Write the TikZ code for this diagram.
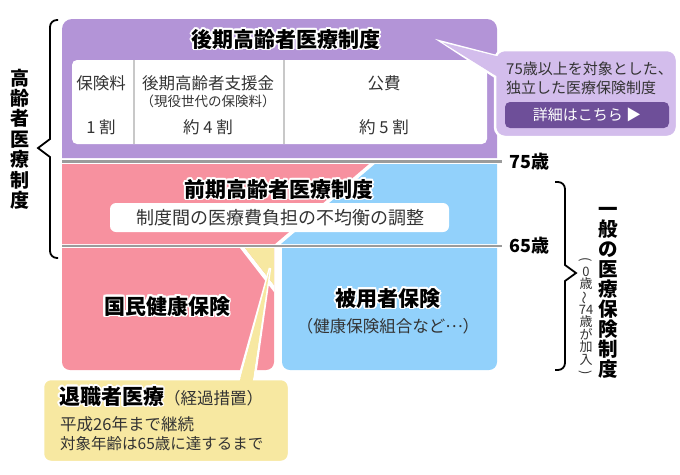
\documentclass[tikz,border=0pt]{standalone}
\usepackage{fontspec}
\setmainfont{Noto Sans CJK JP}
\usepackage{graphicx}
\usepackage{contour}
\contourlength{1.6pt}
\newcommand\outl[1]{\contour{white}{#1}}
\definecolor{purp}{HTML}{B394D7}
\definecolor{purpl}{HTML}{D3BDEC}
\definecolor{btnc}{HTML}{6E4F99}
\definecolor{pinkc}{HTML}{F7919F}
\definecolor{bluec}{HTML}{92D1FB}
\definecolor{yelc}{HTML}{F7E8A1}
\definecolor{sepc}{HTML}{9B9B9B}
\definecolor{divc}{HTML}{C8C8C8}
\definecolor{txt}{HTML}{333333}
\tikzset{
  ttl/.style={font=\fontsize{21}{23}\selectfont\bfseries, text=black, inner sep=0},
  bd/.style={font=\fontsize{16.5}{18}\selectfont, text=txt, inner sep=0},
  sm/.style={font=\fontsize{13.5}{15}\selectfont, text=txt, inner sep=0},
  cl/.style={font=\fontsize{15}{17}\selectfont, text=txt, inner sep=0},
  agelab/.style={font=\fontsize{18}{20}\selectfont\bfseries, text=black, inner sep=0, anchor=west},
  sepline/.style={draw=sepc, line width=2.5},
  bracel/.style={draw=black, line width=1.8},
  vert/.style={align=center, inner sep=0, text=black},
}
\begin{document}
\begin{tikzpicture}[x=1pt,y=-1pt]
\useasboundingbox (0,0) rectangle (680,474);
% ---------- purple block
\fill[purp] (62,158) [rounded corners=10] -- (62,19) -- (497,19) [sharp corners] -- (497,158) -- cycle;
\fill[white, rounded corners=5] (72,60) rectangle (487,144);
\draw[divc, line width=1.5] (134,60) -- (134,144);
\draw[divc, line width=1.5] (284,60) -- (284,144);
\node[ttl] (t1) at (286,40) {\outl{後期高齢者医療制度}};
\node[bd] (c1a) at (101,83) {保険料};
\node[bd] (c1b) at (101,127) {1 割};
\node[bd] (c2a) at (208,83) {後期高齢者支援金};
\node[sm] (c2s) at (208,101) {（現役世代の保険料）};
\node[bd] (c2b) at (208,127) {約 4 割};
\node[bd] (c3a) at (384,83) {公費};
\node[bd] (c3b) at (384,127) {約 5 割};
% ---------- purple callout
\draw[white, line width=2.5, fill=purpl] (442,42) -- (500,57) -- (500,80) -- cycle;
\draw[white, line width=2.5, fill=purpl, rounded corners=10] (495,50) rectangle (677,137);
\fill[purpl] (442.5,42.5) -- (502,57.5) -- (502,79.5) -- cycle;
\fill[btnc, rounded corners=5] (505,102) rectangle (669,128);
\node[cl, anchor=west] (k1) at (506,69) {75歳以上を対象とした、};
\node[cl, anchor=west] (k2) at (506,88) {独立した医療保険制度};
\node[cl, text=white] (k3) at (587,115) {詳細はこちら ▶};
% ---------- separators
\draw[sepline] (62,161.5) -- (502,161.5);
\draw[sepline] (62,246) -- (502,246);
\node[agelab] (a75) at (509,162) {75歳};
\node[agelab] (a65) at (509,246) {65歳};
% ---------- upper region
\fill[pinkc] (62,164) -- (369,164) -- (275,244) -- (62,244) -- cycle;
\fill[bluec] (375,164) -- (497,164) -- (497,244) -- (281,244) -- cycle;
\node[ttl] (t2) at (279,190) {\outl{前期高齢者医療制度}};
\fill[white, rounded corners=6] (110,203) rectangle (449,232);
\node[font=\fontsize{18}{20}\selectfont, text=txt, inner sep=0] (t2s) at (280,218) {制度間の医療費負担の不均衡の調整};
% ---------- lower region
\fill[pinkc] (62,248) [rounded corners=8] -- (62,370) -- (274,370) [sharp corners] -- (274,248) -- cycle;
\fill[bluec] (282,248) [rounded corners=8] -- (282,370) -- (497,370) [sharp corners] -- (497,248) -- cycle;
\fill[white] (240,248) -- (245,248) -- (274,285) -- (274,292) -- cycle;
\fill[yelc] (245,248) -- (274,248) -- (274,285) -- cycle;
\node[ttl] (t3) at (167,307) {\outl{国民健康保険}};
\node[ttl] (t4) at (388,299) {\outl{被用者保険}};
\node[bd] (t4s) at (388,326) {（健康保険組合など\raisebox{4.5pt}{…}）};
% ---------- yellow callout
\draw[white, line width=2.5, fill=yelc] (270,268) -- (238,382) -- (254,382) -- cycle;
\draw[white, line width=2.5, fill=yelc, rounded corners=8] (43,379) rectangle (289,462);
\fill[yelc] (269.6,270) -- (239.5,382) -- (252.5,382) -- cycle;
\node[anchor=west, inner sep=0, text=black] (y1) at (59,397) {{\fontsize{21}{23}\selectfont\bfseries\outl{退職者医療}}{\fontsize{16.5}{18}\selectfont\color{txt}（経過措置）}};
\node[bd, anchor=west] (y2) at (60,424) {平成26年まで継続};
\node[bd, anchor=west, font=\fontsize{15.5}{17}\selectfont] (y3) at (60,444) {対象年齢は65歳に達するまで};
% ---------- braces
\draw[bracel] (58,20) [rounded corners=7] -| (50,60) [sharp corners] -- (50,139) -- (38,148) -- (50,157) -- (50,230) [rounded corners=7] |- (58,258);
\draw[bracel] (555,182) [rounded corners=7] -| (565,220) [sharp corners] -- (565,265) -- (576,273) -- (565,281) -- (565,330) [rounded corners=7] |- (555,370);
% ---------- vertical labels
\node[vert, font=\fontsize{19}{20.4}\selectfont\bfseries] (v1) at (20,139) {高\\齢\\者\\医\\療\\制\\度};
\node[vert, font=\fontsize{19.5}{20}\selectfont\bfseries] (v2) at (608,293) {一\\般\\の\\医\\療\\保\\険\\制\\度};
\node[vert, text=txt, font=\fontsize{13}{12.4}\selectfont] (v3) at (586,317) {\rotatebox[origin=c]{-90}{(}\\0\\歳\\\rotatebox[origin=c]{90}{〜}\\74\\歳\\が\\加\\入\\\rotatebox[origin=c]{-90}{)}};
\end{tikzpicture}
\end{document}
